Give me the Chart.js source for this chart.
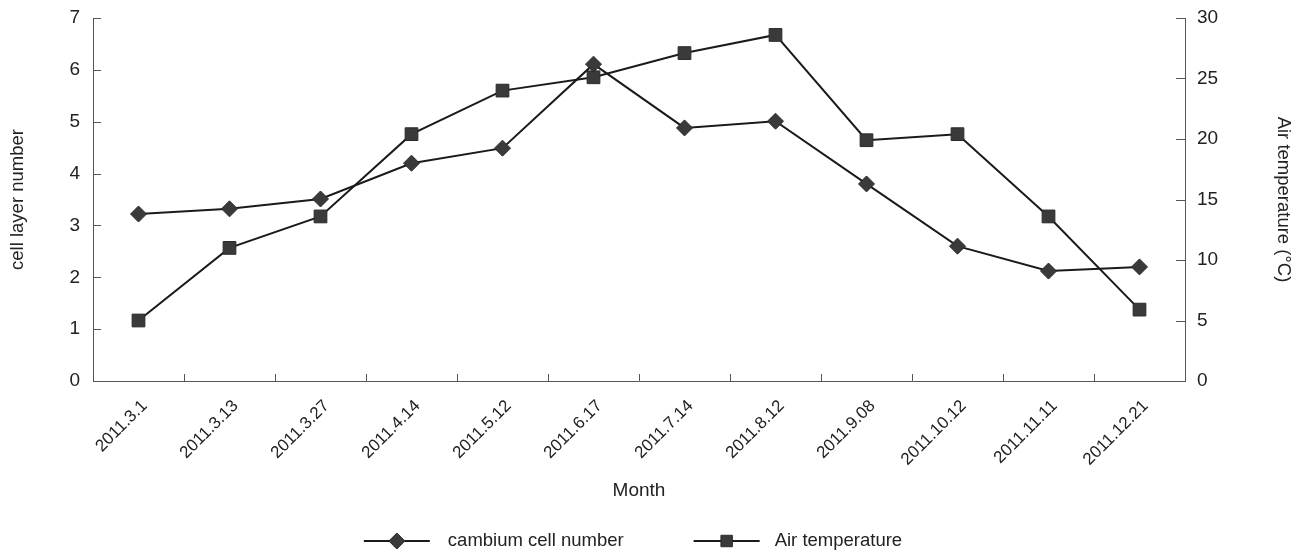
<!DOCTYPE html>
<html>
<head>
<meta charset="utf-8">
<script src="https://cdn.jsdelivr.net/npm/chart.js@4.4.1/dist/chart.umd.min.js"></script>
<style>
  html, body { margin: 0; padding: 0; background: #fff; }
  #wrap { width: 1301px; height: 552px; position: relative; }
</style>
</head>
<body>
<div id="wrap"><canvas id="grafico"></canvas></div>
<script>
// datas de coleta
const months = ['2011.3.1', '2011.3.13', '2011.3.27', '2011.4.14', '2011.5.12', '2011.6.17',
  '2011.7.14', '2011.8.12', '2011.9.08', '2011.10.12', '2011.11.11', '2011.12.21']

// numero de camadas do cambio
const cambiumCells = [3.22, 3.32, 3.51, 4.20, 4.49, 6.11, 4.88, 5.01, 3.80, 2.60, 2.12, 2.20]

// temperatura do ar
const airTemp = [5.0, 11.0, 13.6, 20.4, 24.0, 25.1, 27.1, 28.6, 19.9, 20.4, 13.6, 5.9]

// limites dos eixos
const leftMax = 7
const leftStep = 1
const rightMax = 30
const rightStep = 5

const fontFam = '"Liberation Sans", Arial, sans-serif'
const textColor = '#222'
const axisColor = '#555'

// marcas dos eixos viradas pra dentro
const innerTicks = {
  id: 'innerTicks',
  afterDraw(chart) {
    const ctx = chart.ctx
    const area = chart.chartArea
    const x = chart.scales.x
    const y = chart.scales.y
    const y1 = chart.scales.y1
    ctx.save()
    ctx.strokeStyle = axisColor
    ctx.lineWidth = 1
    ctx.beginPath()
    y.ticks.forEach((t, i) => {
      const py = Math.round(y.getPixelForTick(i)) + 0.5
      ctx.moveTo(area.left, py)
      ctx.lineTo(area.left + 8, py)
    })
    y1.ticks.forEach((t, i) => {
      const py = Math.round(y1.getPixelForTick(i)) + 0.5
      ctx.moveTo(area.right, py)
      ctx.lineTo(area.right - 9, py)
    })
    for (let i = 1; i < months.length; i++) {
      const px = Math.round(x.getPixelForValue(i - 0.5)) + 0.5
      ctx.moveTo(px, area.bottom)
      ctx.lineTo(px, area.bottom - 7)
    }
    ctx.stroke()
    ctx.restore()
  }
}

// legenda com linha + marcador
const legendaLinha = {
  id: 'legendaLinha',
  afterDraw(chart) {
    const ctx = chart.ctx
    const area = chart.chartArea
    const lineLen = 66
    const textGap = 18
    const itemGap = 70
    const cy = 541
    ctx.save()
    ctx.font = '18.5px ' + fontFam
    ctx.textBaseline = 'middle'
    const items = chart.data.datasets.map(ds => ({
      ds: ds,
      w: lineLen + textGap + ctx.measureText(ds.label).width
    }))
    const total = items.reduce((s, it) => s + it.w, 0) + itemGap * (items.length - 1)
    let x0 = (area.left + area.right) / 2 - 4.5 - total / 2
    items.forEach((it, k) => {
      const ds = it.ds
      ctx.strokeStyle = ds.borderColor
      ctx.lineWidth = 2
      ctx.beginPath()
      ctx.moveTo(x0, cy)
      ctx.lineTo(x0 + lineLen, cy)
      ctx.stroke()
      const mx = x0 + lineLen / 2
      ctx.fillStyle = ds.pointBackgroundColor
      ctx.strokeStyle = ds.pointBorderColor
      ctx.lineWidth = 1
      ctx.beginPath()
      if (ds.pointStyle === 'rectRot') {
        const r = ds.pointRadius
        ctx.moveTo(mx, cy - r)
        ctx.lineTo(mx + r, cy)
        ctx.lineTo(mx, cy + r)
        ctx.lineTo(mx - r, cy)
        ctx.closePath()
      } else {
        const s = ds.pointRadius * Math.SQRT1_2 * 0.9
        ctx.rect(mx - s, cy - s, 2 * s, 2 * s)
      }
      ctx.fill()
      ctx.stroke()
      ctx.fillStyle = textColor
      ctx.textAlign = 'left'
      ctx.fillText(ds.label, x0 + lineLen + (k === 0 ? textGap : textGap - 3), cy)
      x0 += it.w + itemGap
    })
    ctx.restore()
  }
}

// tira o espaco extra que o chart.js poe em cima do eixo y
function fixYScale(width) {
  return scale => {
    scale.width = width
    scale.paddingTop = 0
  }
}

const ctx = document.getElementById('grafico').getContext('2d')
new Chart(ctx, {
  type: 'line',
  data: {
    labels: months,
    datasets: [{
      label: 'cambium cell number',
      data: cambiumCells,
      yAxisID: 'y',
      borderColor: '#1a1a1a',
      borderWidth: 2,
      pointStyle: 'rectRot',
      pointRadius: 8,
      pointBackgroundColor: '#3a3a3a',
      pointBorderColor: '#2a2a2a',
      pointBorderWidth: 1,
      tension: 0
    }, {
      label: 'Air temperature',
      data: airTemp,
      yAxisID: 'y1',
      borderColor: '#1a1a1a',
      borderWidth: 2,
      pointStyle: 'rect',
      pointRadius: 9,
      pointBackgroundColor: '#3a3a3a',
      pointBorderColor: '#2a2a2a',
      pointBorderWidth: 1,
      tension: 0
    }]
  },
  options: {
    responsive: true,
    maintainAspectRatio: false,
    animation: false,
    layout: { padding: { top: 18, bottom: 50, left: 0, right: 0 } },
    plugins: {
      legend: { display: false },
      tooltip: { enabled: false }
    },
    scales: {
      x: {
        offset: true,
        grid: { display: false },
        border: { display: true, color: axisColor, width: 1 },
        ticks: {
          color: textColor,
          font: { family: fontFam, size: 17 },
          minRotation: 45,
          maxRotation: 45,
          autoSkip: false,
          padding: 7,
          labelOffset: 6
        },
        title: {
          display: true,
          text: 'Month',
          color: textColor,
          font: { family: fontFam, size: 19 },
          padding: { top: 0, bottom: 0 }
        },
        afterFit(scale) { scale.height = 121 }
      },
      y: {
        position: 'left',
        min: 0,
        max: leftMax,
        grid: { display: false },
        border: { display: true, color: axisColor, width: 1 },
        ticks: {
          stepSize: leftStep,
          color: textColor,
          font: { family: fontFam, size: 19 },
          padding: 5
        },
        title: {
          display: true,
          text: 'cell layer number',
          color: textColor,
          font: { family: fontFam, size: 18.5 },
          padding: { top: 7, bottom: 0 }
        },
        afterFit: fixYScale(93)
      },
      y1: {
        position: 'right',
        min: 0,
        max: rightMax,
        grid: { display: false },
        border: { display: true, color: axisColor, width: 1 },
        ticks: {
          stepSize: rightStep,
          color: textColor,
          font: { family: fontFam, size: 19 },
          padding: 4
        },
        title: {
          display: true,
          text: 'Air temperature (°C)',
          color: textColor,
          font: { family: fontFam, size: 18.5 },
          padding: { top: 7, bottom: 0 }
        },
        afterFit: fixYScale(116)
      }
    }
  },
  plugins: [innerTicks, legendaLinha]
})
</script>
</body>
</html>
